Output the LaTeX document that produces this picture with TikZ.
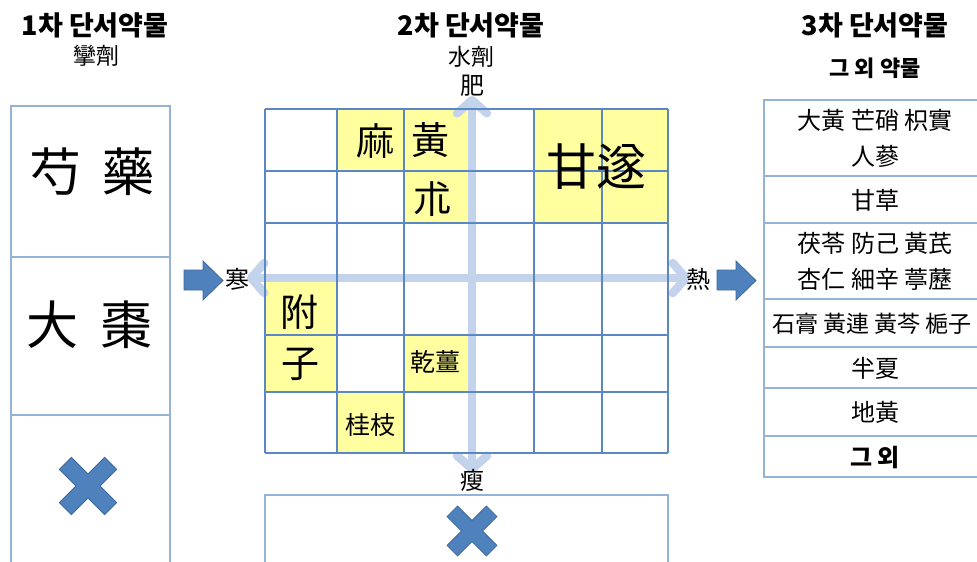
\documentclass[tikz,border=0pt]{standalone}
\usepackage{fontspec}
\setmainfont{Noto Sans CJK KR}
\usetikzlibrary{arrows.meta}
\definecolor{gridc}{HTML}{5B87C5}
\definecolor{boxc}{HTML}{95B3D7}
\definecolor{yel}{HTML}{FFFF9F}
\definecolor{axisc}{HTML}{C3D3EC}
\definecolor{xfill}{HTML}{4F81BD}
\definecolor{xdraw}{HTML}{3F6A9E}
\newcommand\fsz[2]{\fontsize{#1pt}{#2pt}\selectfont}
\newcommand\bigcross[3]{%
  \begin{scope}[shift={(#1,#2)},scale=#3,rotate=45]
    \filldraw[xfill,draw=xdraw,line width=0.8pt]
      (8.5,32)--(8.5,8.5)--(32,8.5)--(32,-8.5)--(8.5,-8.5)--(8.5,-32)--
      (-8.5,-32)--(-8.5,-8.5)--(-32,-8.5)--(-32,8.5)--(-8.5,8.5)--(-8.5,32)--cycle;
  \end{scope}}
\begin{document}
\begin{tikzpicture}[x=1pt,y=-1pt,
  every node/.style={inner sep=0pt},
  title/.style={font=\fsz{27}{31}\bfseries},
  subtitle/.style={font=\fsz{23}{27}},
  bigherb/.style={font=\fsz{52}{56}},
  cellherb/.style={font=\fsz{38}{42}},
  smallherb/.style={font=\fsz{25}{28}},
  axislabel/.style={font=\fsz{24}{27}},
  listherb/.style={font=\fsz{24}{36},align=center},
  axis/.style={draw=axisc,line width=8.5pt,
    {Straight Barb[round,length=13pt,width=30pt]}-{Straight Barb[round,length=13pt,width=30pt]}},
  gridline/.style={draw=gridc,line width=1.1pt},
  colbox/.style={draw=boxc,line width=1.5pt},
  blockarrow/.style={fill=xfill,draw=xdraw,line width=0.8pt}
]
\useasboundingbox (0,0) rectangle (977,562);
\clip (0,0) rectangle (977,562);

% titles
\node[title] (t1) at (95,25) {1차 단서약물};
\node[subtitle] (t1s) at (96,56) {攣劑};
\node[title] (t2) at (471,25) {2차 단서약물};
\node[subtitle] (t2s) at (471,57) {水劑};
\node[title] (t3) at (875,25) {3차 단서약물};
\node[font=\fsz{22}{26}\bfseries] (t3s) at (875,68) {그 외 약물};

% left column
\draw[colbox] (11,575) -- (11,106) -- (170,106) -- (170,575);
\draw[colbox] (11,257) -- (170,257);
\draw[colbox] (11,415) -- (170,415);
\node[bigherb] (l1) at (92,172) {芍\hspace{22pt}藥};
\node[bigherb] (l2) at (90,325) {大\hspace{22pt}棗};
\bigcross{88}{486}{1}

% block arrows
\draw[blockarrow] (184,270)--(203,270)--(203,261)--(223,280.5)--(203,300)--(203,290)--(184,290)--cycle;
\draw[blockarrow] (717,270)--(736,270)--(736,261)--(756,280.5)--(736,300)--(736,290)--(717,290)--cycle;

% yellow cells
\fill[yel] (337,109) rectangle (470,171);
\fill[yel] (404,171) rectangle (470,223);
\fill[yel] (534,109) rectangle (668,223);
\fill[yel] (265,279) rectangle (337,392);
\fill[yel] (404,335) rectangle (470,392);
\fill[yel] (337,392) rectangle (404,453);

% axes
\coordinate (axtop) at (472,96);
\coordinate (axbot) at (472,473);
\coordinate (axleft) at (247,278);
\coordinate (axright) at (690,278);
\draw[axis] (axbot) -- (axtop);
\draw[axis] (axleft) -- (axright);

% grid
\foreach \x in {265,337,404,534,602,668} \draw[gridline] (\x,109) -- (\x,453);
\foreach \y in {109,171,223,335,392,453} \draw[gridline] (265,\y) -- (668,\y);

% axis labels
\node[axislabel] (fei) at (472,86) {肥};
\node[axislabel] (shou) at (472,480) {瘦};
\node[axislabel] (han) at (237,279) {寒};
\node[axislabel] (re) at (698,279) {熱};

% cell herbs
\node[cellherb] (ma) at (375,141) {麻};
\node[cellherb] (hwang) at (430,140) {黃};
\node[cellherb] (chul) at (432,199) {朮};
\node[font=\fsz{50}{54}] (gansui) at (596,167) {甘遂};
\node[cellherb] (bu) at (299,312) {附};
\node[cellherb] (ja) at (300,364) {子};
\node[smallherb] (ganjiang) at (435,362) {乾薑};
\node[smallherb] (guizhi) at (370,425) {桂枝};

% bottom box
\draw[colbox] (265,575) -- (265,495) -- (668,495) -- (668,575);
\bigcross{472}{531}{0.87}

% right column
\draw[colbox] (764,100) rectangle (992,477);
\foreach \y in {176,223,299,347,388,436} \draw[colbox] (764,\y) -- (992,\y);
\node[listherb] (r1) at (875,138) {大黃 芒硝 枳實\\人蔘};
\node[listherb] (r2) at (875,200) {甘草};
\node[listherb] (r3) at (875,261) {茯苓 防己 黃芪\\杏仁 細辛 葶藶};
\node[listherb,font=\fsz{23}{36}] (r4) at (872,324) {石膏 黃連 黃芩 梔子};
\node[listherb] (r5) at (875,368) {半夏};
\node[listherb] (r6) at (875,412) {地黃};
\node[listherb,font=\fsz{24}{36}\bfseries] (r7) at (875,458) {그 외};
\end{tikzpicture}
\end{document}
